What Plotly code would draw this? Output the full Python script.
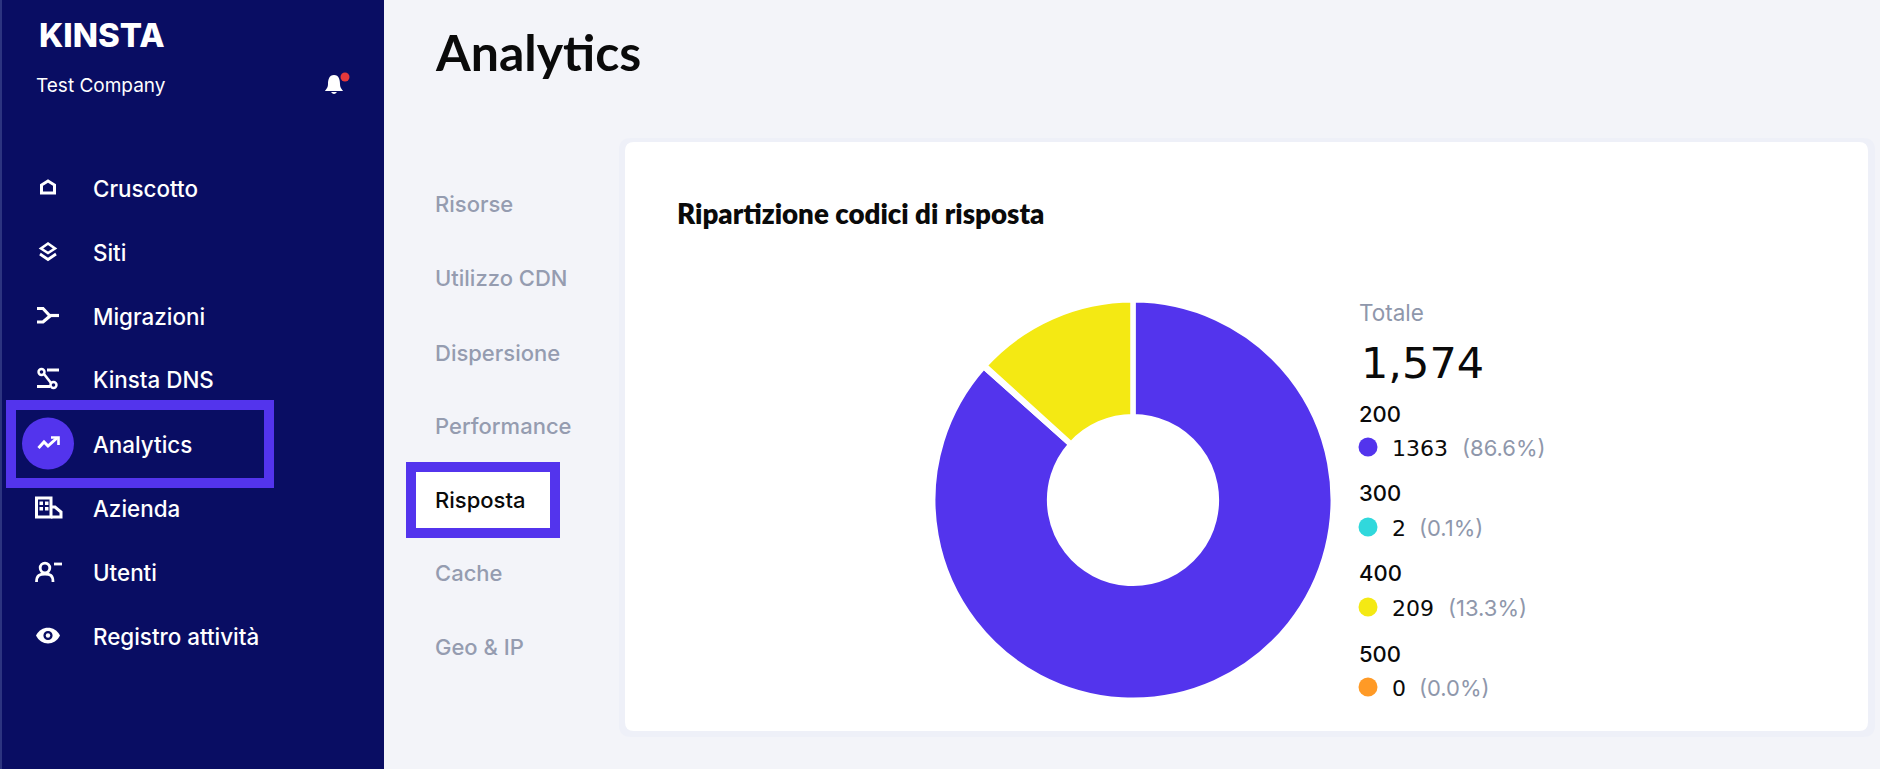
import plotly.graph_objects as go

W = 1880
H = 769

# chart data
codes = ["200", "300", "400", "500"]
counts = [1363, 2, 209, 0]
shares = ["(86.6%)", "(0.1%)", "(13.3%)", "(0.0%)"]
total_label = "1,574"

# page text
side_items = ["Cruscotto", "Siti", "Migrazioni", "Kinsta DNS", "Analytics", "Azienda", "Utenti", "Registro attività"]
tab_items = ["Risorse", "Utilizzo CDN", "Dispersione", "Performance", "Risposta", "Cache", "Geo & IP"]

# layout positions, pixels from the top left
side_y = [188, 252, 316, 379, 444, 508, 572, 636]
tab_y = [204, 278, 353, 426, 500, 573, 647]
code_y = [414, 493, 573, 654]
dot_y = [447, 527, 607, 687]
share_x = [1461, 1418, 1447, 1418]

# colours
NAVY = "#090d63"
PURPLE = "#5334ed"
slice_colors = [PURPLE, "#30d8dc", "#f4e913", "#ff9a26"]
GREY = "#8f97ab"
TAB_GREY = "#959cb0"
INK = "#0a0a0a"
BG = "#f3f4f9"


def label(x, y, text, size, color=INK, family="Inter", weight=400):
    return dict(
        x=x, y=y, text=text, xref="x", yref="y", showarrow=False,
        xanchor="left", yanchor="middle", borderpad=0,
        font=dict(size=size, color=color, family=family, weight=weight),
    )


def rect(x0, y0, x1, y1, fill=None, line=None, width=0):
    return dict(
        type="rect", xref="x", yref="y", x0=x0, y0=y0, x1=x1, y1=y1,
        fillcolor=fill, line=dict(color=line, width=width), layer="below",
    )


def round_rect(x0, y0, x1, y1, r, fill):
    path = (
        f"M {x0 + r} {y0} L {x1 - r} {y0} Q {x1} {y0} {x1} {y0 + r} "
        f"L {x1} {y1 - r} Q {x1} {y1} {x1 - r} {y1} "
        f"L {x0 + r} {y1} Q {x0} {y1} {x0} {y1 - r} "
        f"L {x0} {y0 + r} Q {x0} {y0} {x0 + r} {y0} Z"
    )
    return dict(type="path", xref="x", yref="y", layer="below", fillcolor=fill,
                line=dict(width=0), path=path)


def stroke(path, width=3, color="white"):
    return dict(type="path", xref="x", yref="y", path=path,
                line=dict(color=color, width=width), layer="above")


def solid(path, color="white"):
    return dict(type="path", xref="x", yref="y", path=path, fillcolor=color,
                line=dict(width=0), layer="above")


def disc(cx, cy, r, fill=None, line=None, width=0, layer="above"):
    return dict(type="circle", xref="x", yref="y", x0=cx - r, x1=cx + r, y0=cy - r, y1=cy + r,
                fillcolor=fill, line=dict(color=line, width=width), layer=layer)


shapes = [
    rect(0, 0, 384, H, fill=NAVY),
    rect(0, 0, 2, H, fill="#2c3480"),
    # card with its soft shadow
    round_rect(619, 138, 1875, 737, 12, "#eef0f8"),
    round_rect(625, 142, 1868, 731, 9, "white"),
    # highlight boxes
    rect(11, 405, 269, 483, line=PURPLE, width=10),
    rect(411, 467, 555, 533, fill="white", line=PURPLE, width=10),
    disc(48, 443.5, 26, fill=PURPLE, layer="below"),
    # bell
    solid("M 334 75 C 329 75 328 80 328 84 C 328 88 326 89 325 91 L 343 91 C 342 89 340 88 340 84 "
          "C 340 80 339 75 334 75 Z"),
    solid("M 331 92 L 337 92 Q 334 96 331 92 Z"),
    disc(345, 77, 4.5, fill="#e5383b"),
    # house
    stroke("M 41.5 193 L 41.5 185 L 48 181 L 54.5 185 L 54.5 193 Z"),
    # layers
    stroke("M 48 243.5 L 55 248.5 L 48 253 L 41 248.5 Z", width=2.6),
    stroke("M 40 254 L 48 259.5 L 56 254", width=2.8),
    # migrations
    stroke("M 37 308.5 L 43 308.5 L 50 316 L 43 322 L 37 322", width=3.2),
    stroke("M 50 315.5 L 59 315.5", width=3.2),
    # dns
    disc(41.5, 372, 3, line="white", width=2.4),
    disc(53.5, 385, 3, line="white", width=2.4),
    stroke("M 44 374 L 51 383", width=2.6),
    stroke("M 47 370 L 59 370", width=3),
    stroke("M 37 386.5 L 50 386.5", width=3),
    # trend
    stroke("M 38.5 448 L 44 442 L 48 446 L 57 438", width=3),
    stroke("M 51 437.5 L 58.5 437.5 L 58.5 445", width=2.6),
    # building
    stroke("M 36.5 517 L 36.5 498 L 51 498 L 51 517 Z", width=3),
    stroke("M 51 507 L 55 507 L 61 512 L 61 517 L 51 517", width=3),
    solid("M 39.5 501.5 L 43 501.5 L 43 505 L 39.5 505 Z"),
    solid("M 45 501.5 L 48.5 501.5 L 48.5 505 L 45 505 Z"),
    solid("M 39.5 507 L 43 507 L 43 510.5 L 39.5 510.5 Z"),
    solid("M 45 507 L 48.5 507 L 48.5 510.5 L 45 510.5 Z"),
    # user
    disc(45, 568, 4.8, line="white", width=2.8),
    stroke("M 36.5 582 C 36.5 575 40 574 45 574 C 50 574 53 575 53 582", width=2.8),
    stroke("M 54 564 L 62 564", width=2.8),
    # eye
    solid("M 36 635.5 C 41 625 55 625 60 635.5 C 55 646 41 646 36 635.5 Z"),
    disc(48, 635.5, 4.6, fill=NAVY),
    disc(48, 635.5, 2.2, fill="white"),
]

annotations = [
    label(38, 34.5, "KINSTA", 33, "white", "Inter", 800),
    label(35, 85, "Test Company", 19, "white"),
    label(433.5, 52, "Analytics", 50, INK, "Lato", 700),
    label(676, 213, "Ripartizione codici di risposta", 27.7, INK, "Lato", 800),
    label(1358, 312, "Totale", 22.5, GREY),
    label(1360, 363, total_label, 43, INK, "DejaVu Sans"),
]

for name, y in zip(side_items, side_y):
    annotations.append(label(91.5, y, name, 22.4, "white", "Inter", 500))

for name, y in zip(tab_items, tab_y):
    color = INK if name == "Risposta" else TAB_GREY
    annotations.append(label(434, y, name, 22, color, "Inter", 500))

for i in range(len(codes)):
    annotations.append(label(1358, code_y[i], codes[i], 22, INK, "Inter", 500))
    annotations.append(label(1391, dot_y[i] + 1, f"{counts[i]}", 22, INK, "DejaVu Sans"))
    annotations.append(label(share_x[i], dot_y[i] + 1, shares[i], 22, GREY))

fig = go.Figure()

fig.add_trace(go.Pie(
    labels=codes,
    values=counts,
    sort=False,
    direction="clockwise",
    rotation=0,
    hole=0.418,
    textinfo="none",
    showlegend=False,
    marker=dict(colors=slice_colors, line=dict(color="white", width=5)),
    domain=dict(x=[933 / W, 1333 / W], y=[1 - 700 / H, 1 - 300 / H]),
))

# legend dots
fig.add_trace(go.Scatter(
    x=[1368] * len(codes),
    y=dot_y,
    mode="markers",
    marker=dict(color=slice_colors, size=19),
    showlegend=False,
    hoverinfo="skip",
))

fig.update_layout(
    width=W,
    height=H,
    margin=dict(l=0, r=0, t=0, b=0),
    paper_bgcolor=BG,
    plot_bgcolor="rgba(0,0,0,0)",
    xaxis=dict(range=[0, W], visible=False, fixedrange=True),
    yaxis=dict(range=[H, 0], visible=False, fixedrange=True),
    shapes=shapes,
    annotations=annotations,
)

# the browser's default body margin would push the page 8px off
fig.write_html(
    "out.html",
    config=dict(displayModeBar=False),
    post_script="document.body.style.margin = '0';",
)
